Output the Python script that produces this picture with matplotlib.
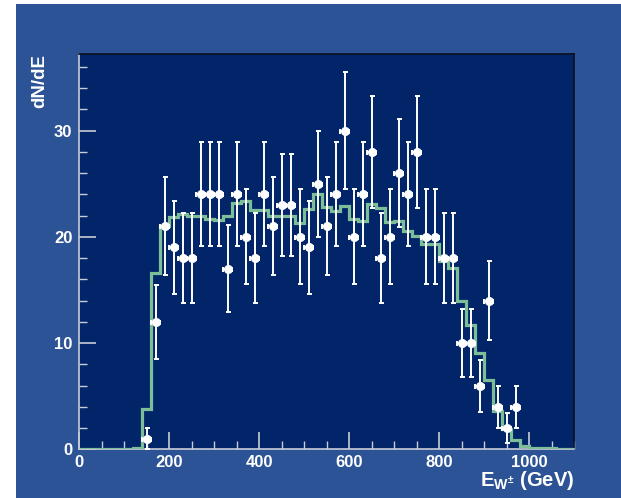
import numpy as np
import matplotlib
matplotlib.use("Agg")
import matplotlib.pyplot as plt
from matplotlib.patches import Rectangle
from matplotlib.ticker import MultipleLocator

# ---- data ----
bin_edges = np.arange(0, 1101, 20)
mc_values = [0, 0, 0, 0, 0, 0, 0.1, 3.8, 16.6, 21.0,
             21.9, 22.1, 22.0, 22.0, 21.7, 21.6, 22.0, 23.2, 23.4, 22.5,
             22.5, 22.0, 22.0, 22.0, 21.3, 22.6, 24.0, 22.8, 22.4, 22.9,
             21.7, 21.5, 23.1, 22.7, 21.4, 21.5, 20.5, 20.1, 19.3, 19.3,
             17.7, 17.1, 14.0, 11.7, 9.1, 6.5, 3.6, 1.9, 0.9, 0.35,
             0.12, 0.12, 0.12, 0.0, 0.0]
data_x = np.arange(150, 971, 20)
data_counts = [1, 12, 21, 19, 18, 18, 24, 24, 24, 17,
               24, 20, 18, 24, 21, 23, 23, 20, 19, 25,
               21, 24, 30, 20, 24, 28, 18, 20, 26, 24,
               28, 20, 20, 18, 18, 10, 10, 6, 14, 4,
               2, 4]
x_ticks = [0, 200, 400, 600, 800, 1000]
y_ticks = [0, 10, 20, 30]

plt.rcParams['font.family'] = ['Liberation Sans', 'DejaVu Sans']
plt.rcParams['font.weight'] = 'bold'
plt.rcParams['mathtext.fontset'] = 'custom'
plt.rcParams['mathtext.rm'] = 'Liberation Sans:bold'
plt.rcParams['mathtext.it'] = 'Liberation Sans:bold'
plt.rcParams['mathtext.bf'] = 'Liberation Sans:bold'

W, H = 621, 498
fig = plt.figure(figsize=(W / 100, H / 100), dpi=100, facecolor='white')
panel_col = '#2b5395'
fig.patches.append(Rectangle((16 / W, 0), 1 - 16 / W, 1 - 4.5 / H,
                             transform=fig.transFigure, facecolor=panel_col,
                             edgecolor='none', zorder=-10))

ax = fig.add_axes([79.3 / W, 1 - 449.3 / H, (574.3 - 79.3) / W, (449.3 - 54) / H])
ax.set_facecolor('#012568')

green = '#7dbd98'
mc = np.array(mc_values)
ax.stairs(mc, bin_edges, color=green, linewidth=2.3, zorder=3)

cnt = np.array(data_counts, dtype=float)
ax.errorbar(data_x, cnt, yerr=np.sqrt(cnt), xerr=10, fmt='o', color='white',
            ms=5.5, elinewidth=1.4, capsize=1.8, capthick=1.4, zorder=4)

ax.set_xlim(0, 1100)
ax.set_ylim(0, 37.2)
ax.set_xticks(x_ticks)
ax.set_yticks(y_ticks)
ax.xaxis.set_minor_locator(MultipleLocator(50))
ax.yaxis.set_minor_locator(MultipleLocator(2))
tick_col = '#c9ccd8'
ax.tick_params(which='both', direction='in', colors=tick_col, top=False, right=False,
               labelcolor='white', labelsize=12)
ax.tick_params(which='major', length=12, width=1.2)
ax.tick_params(which='minor', length=6, width=1.0)
ax.tick_params(axis='x', pad=4)
ax.tick_params(axis='y', pad=5)
for lab in ax.get_xticklabels() + ax.get_yticklabels():
    lab.set_fontweight('bold')

ax.spines['left'].set_color(tick_col)
ax.spines['bottom'].set_color(tick_col)
ax.spines['top'].set_color('#0a0f20')
ax.spines['right'].set_color('#0a0f20')
for s in ax.spines.values():
    s.set_linewidth(1.2)

fig.text(40 / W, 1 - 54 / H, 'dN/dE', rotation=90, ha='center', va='top',
         color='white', fontsize=13.5, fontweight='bold')
fig.text(574 / W, 1 - 486 / H, r'$E_{W^{\pm}}$ (GeV)', ha='right', va='baseline',
         color='white', fontsize=14.5, fontweight='bold')

fig.savefig('out.png', dpi=100, facecolor='white')
